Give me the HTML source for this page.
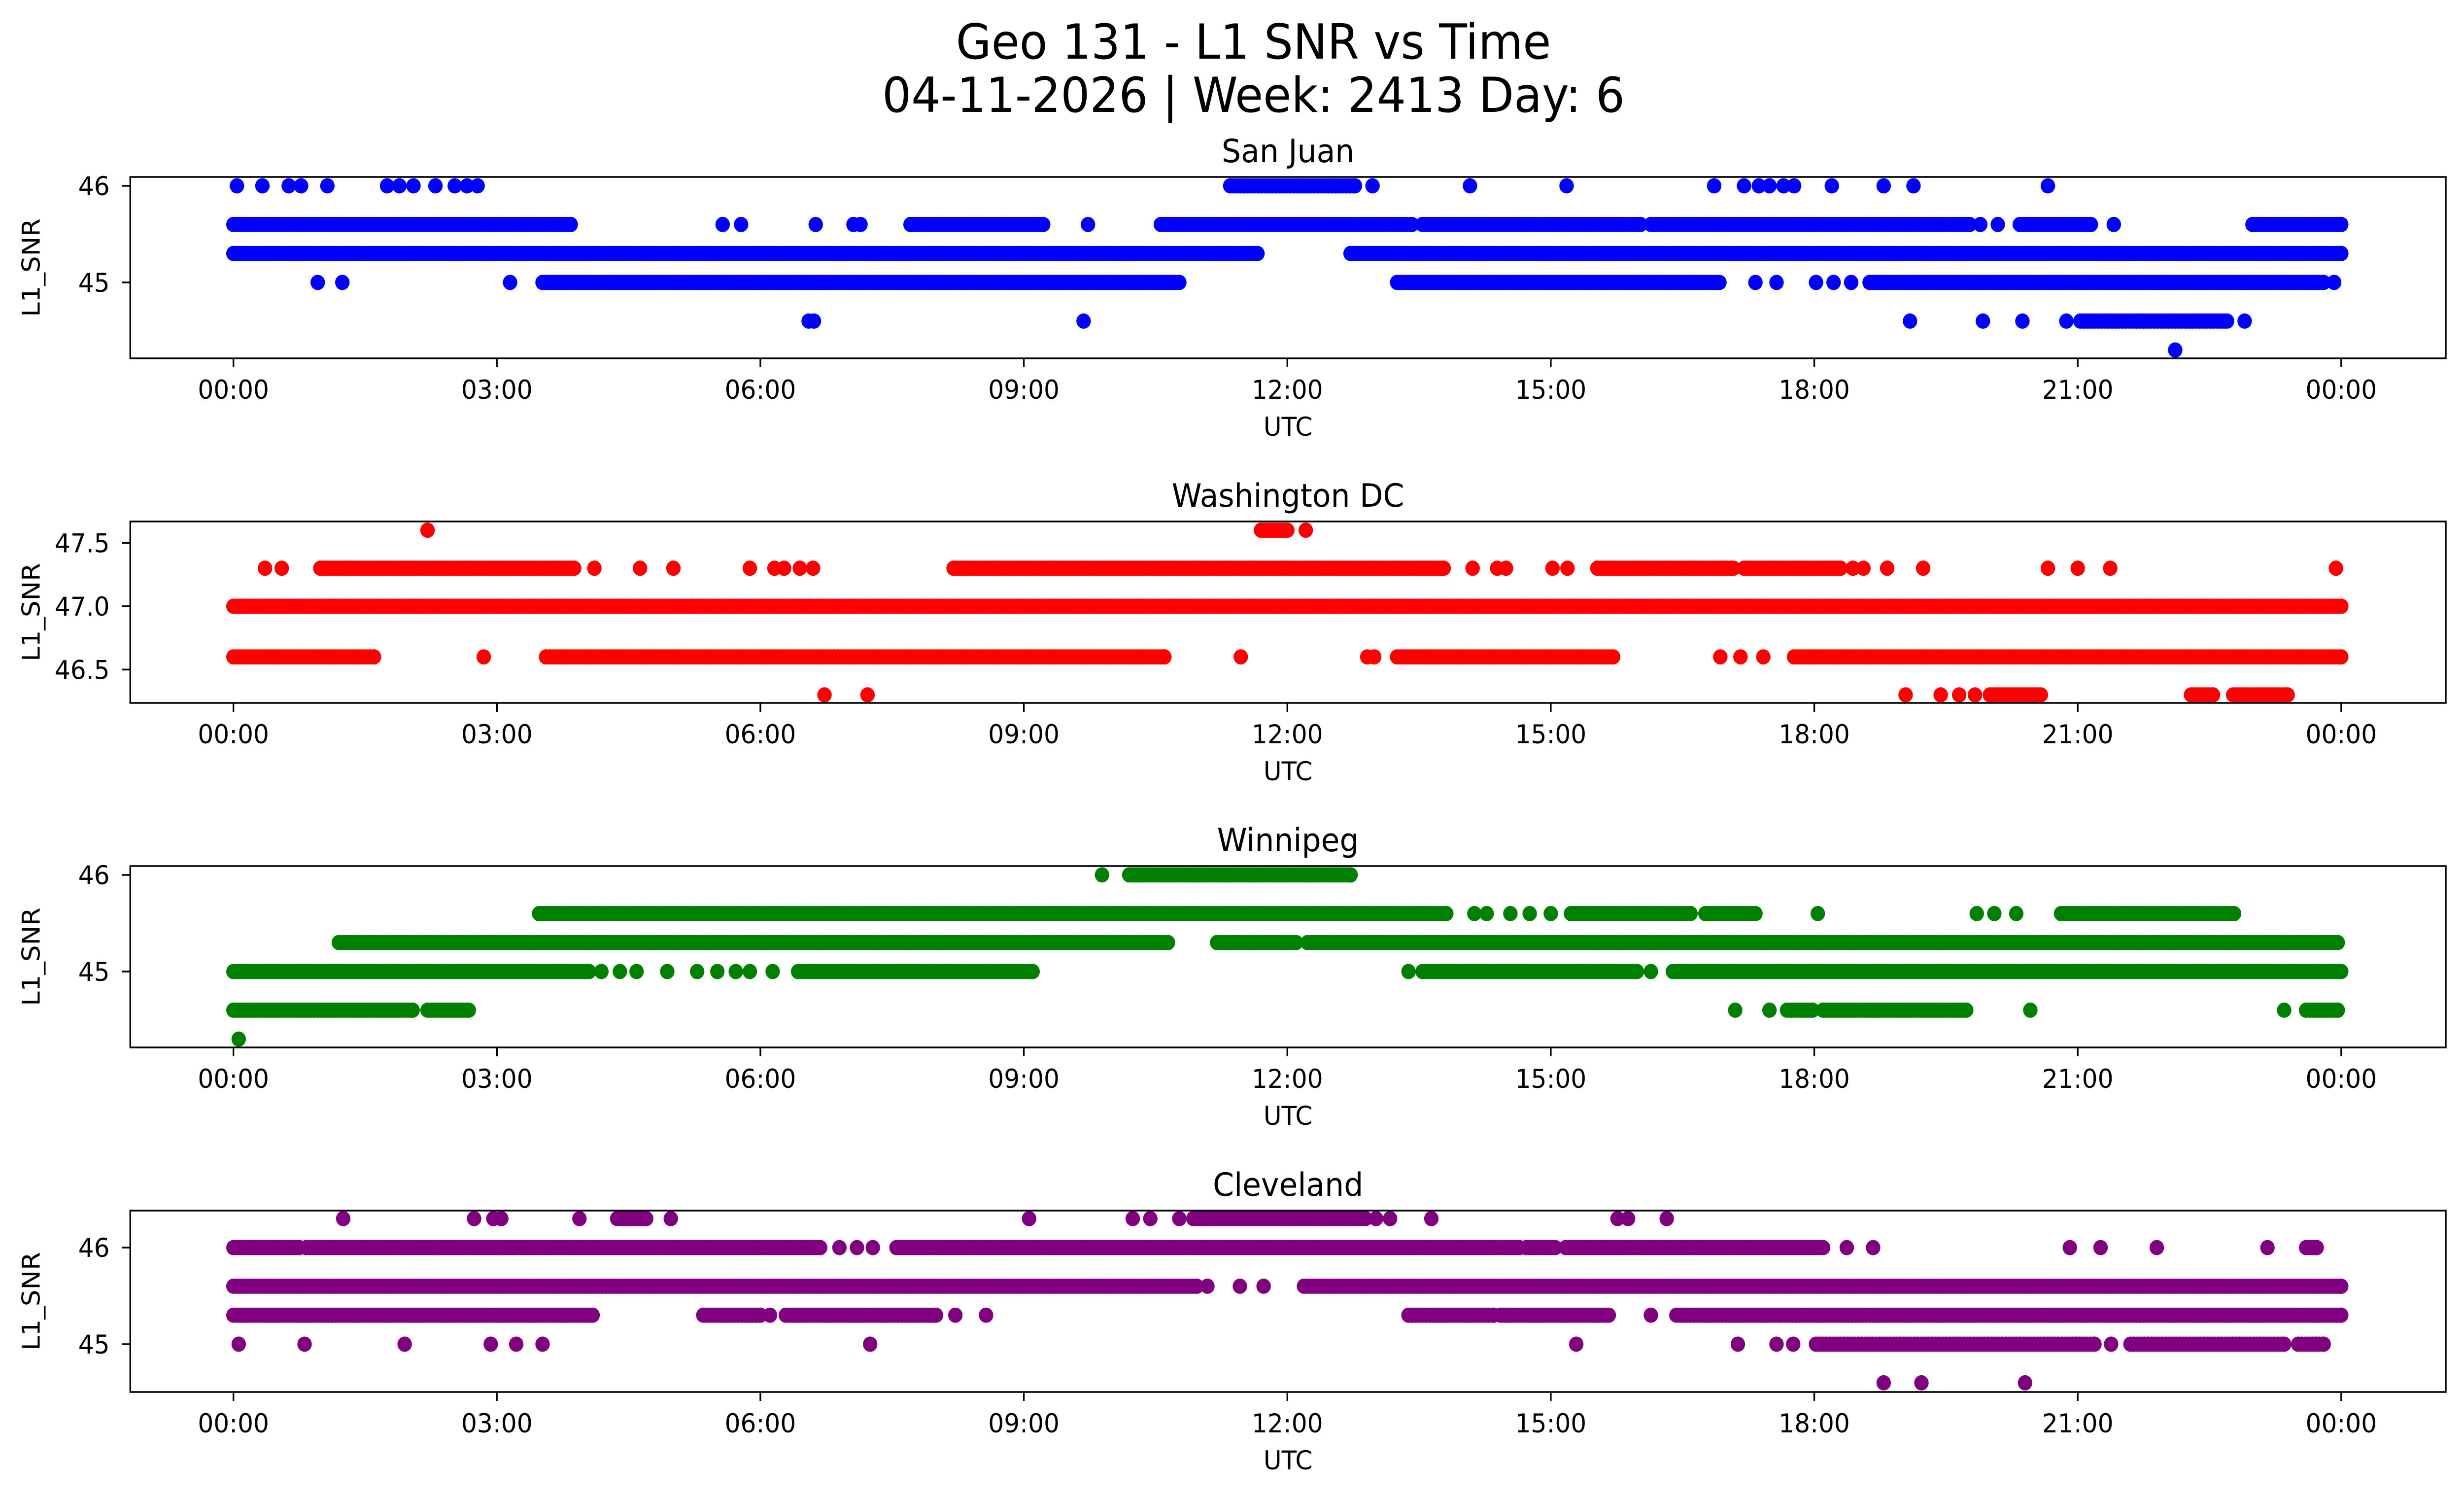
<!DOCTYPE html>
<html><head><meta charset="utf-8">
<style>
html,body{margin:0;padding:0;background:#fff;overflow:hidden;width:100vw;height:100vh;}
svg{display:block;width:100vw;height:100vh;}
text{font-family:"DejaVu Sans","Liberation Sans",sans-serif;fill:#000;}
</style></head>
<body>
<svg id="fig" viewBox="0 0 5278 3033" preserveAspectRatio="none" xmlns="http://www.w3.org/2000/svg">
<rect x="0" y="0" width="5278" height="3033" fill="#fff"/>
<text x="2685" y="119" font-size="98" text-anchor="middle">Geo 131 - L1 SNR vs Time</text>
<text x="2685" y="227" font-size="98" text-anchor="middle">04-11-2026 | Week: 2413 Day: 6</text>
</svg>
<script>
// ---- data (hours UTC, SNR) ----
const xTickHours = [0,3,6,9,12,15,18,21,24];
const xTickLabels = ["00:00","03:00","06:00","09:00","12:00","15:00","18:00","21:00","00:00"];

const stations = ["San Juan","Washington DC","Winnipeg","Cleveland"];
const seriesColors = ["#0000ff","#ff0000","#008000","#800080"];

const sanJuanTicks = [45,46];
const washingtonTicks = [46.5,47.0,47.5];
const winnipegTicks = [45,46];
const clevelandTicks = [45,46];

const sanJuanRange = [44.214,46.092];
const washingtonRange = [46.237,47.669];
const winnipegRange = [44.214,46.092];
const clevelandRange = [44.505,46.383];

// runs: [snr, startHour, endHour]
const sanJuanRuns = [
 [46,11.35,12.77],
 [45.6,0,3.84],[45.6,7.71,9.22],[45.6,10.56,13.42],[45.6,13.54,16.02],[45.6,16.14,19.77],[45.6,20.34,21.15],[45.6,22.99,24],
 [45.3,0,11.66],[45.3,12.72,24],
 [45,3.52,10.77],[45,13.25,16.92],[45,18.63,23.8],
 [44.6,21.03,22.7]
];
const sanJuanPts = [
 [46,0.04],[46,0.33],[46,0.63],[46,0.77],[46,1.07],[46,1.75],[46,1.89],[46,2.05],[46,2.3],[46,2.52],[46,2.66],[46,2.78],
 [46,12.97],[46,14.08],[46,15.18],[46,16.86],[46,17.2],[46,17.37],[46,17.49],[46,17.65],[46,17.77],[46,18.2],[46,18.79],[46,19.13],[46,20.66],
 [45.6,5.57],[45.6,5.78],[45.6,6.63],[45.6,7.06],[45.6,7.14],[45.6,9.73],[45.6,19.89],[45.6,20.09],[45.6,21.41],
 [45,0.96],[45,1.24],[45,3.15],[45,17.33],[45,17.57],[45,18.02],[45,18.22],[45,18.42],[45,23.92],
 [44.6,6.55],[44.6,6.61],[44.6,9.68],[44.6,19.09],[44.6,19.92],[44.6,20.37],[44.6,20.87],[44.6,22.9],
 [44.3,22.11]
];
const washingtonRuns = [
 [47.6,11.7,12.0],
 [47.3,0.99,3.88],[47.3,8.2,13.78],[47.3,15.53,17.08],[47.3,17.2,18.3],
 [47.0,0,24],
 [46.6,0,1.6],[46.6,3.56,10.6],[46.6,13.25,15.71],[46.6,17.77,24],
 [46.3,20.0,20.58],[46.3,22.29,22.54],[46.3,22.77,23.39]
];
const washingtonPts = [
 [47.6,2.21],[47.6,12.21],
 [47.3,0.36],[47.3,0.55],[47.3,4.11],[47.3,4.63],[47.3,5.01],[47.3,5.88],[47.3,6.16],[47.3,6.27],[47.3,6.45],[47.3,6.6],
 [47.3,14.11],[47.3,14.39],[47.3,14.49],[47.3,15.02],[47.3,15.19],[47.3,18.44],[47.3,18.56],[47.3,18.83],[47.3,19.24],[47.3,20.66],[47.3,21.0],[47.3,21.37],[47.3,23.94],
 [46.6,2.85],[46.6,11.47],[46.6,12.91],[46.6,12.99],[46.6,16.93],[46.6,17.16],[46.6,17.42],
 [46.3,6.73],[46.3,7.22],[46.3,19.04],[46.3,19.44],[46.3,19.65],[46.3,19.83]
];
const winnipegRuns = [
 [46,10.2,12.72],
 [45.6,3.48,13.81],[45.6,15.23,16.59],[45.6,16.76,17.33],[45.6,20.81,22.78],
 [45.3,1.2,10.64],[45.3,11.2,12.1],[45.3,12.23,23.96],
 [45,0,4.05],[45,6.43,9.1],[45,13.54,15.98],[45,16.39,24],
 [44.6,0,2.04],[44.6,2.21,2.68],[44.6,17.69,17.98],[44.6,18.1,19.73],[44.6,23.6,23.96]
];
const winnipegPts = [
 [46,9.89],
 [45.6,14.13],[45.6,14.27],[45.6,14.54],[45.6,14.76],[45.6,15.0],[45.6,18.04],[45.6,19.85],[45.6,20.05],[45.6,20.3],
 [45,4.19],[45,4.4],[45,4.59],[45,4.94],[45,5.28],[45,5.51],[45,5.72],[45,5.88],[45,6.14],[45,13.38],[45,16.14],
 [44.6,17.1],[44.6,17.49],[44.6,20.46],[44.6,23.35],
 [44.3,0.06]
];
const clevelandRuns = [
 [46.3,4.37,4.7],[46.3,10.93,12.89],
 [46.0,0,0.75],[46.0,0.83,3.19],[46.0,3.23,3.64],[46.0,3.68,6.68],[46.0,7.55,14.64],[46.0,14.72,15.05],[46.0,15.17,18.1],[46.0,23.6,23.72],
 [45.6,0,10.97],[45.6,12.19,24],
 [45.3,0,4.09],[45.3,5.35,6.0],[45.3,6.29,8.0],[45.3,13.38,14.35],[45.3,14.43,15.66],[45.3,16.43,24],
 [45.0,18.02,21.19],[45.0,21.6,23.35],[45.0,23.51,23.8]
];
const clevelandPts = [
 [46.3,1.25],[46.3,2.74],[46.3,2.96],[46.3,3.05],[46.3,3.94],[46.3,4.98],[46.3,9.06],[46.3,10.24],[46.3,10.44],[46.3,10.77],
 [46.3,13.01],[46.3,13.17],[46.3,13.64],[46.3,15.76],[46.3,15.88],[46.3,16.32],
 [46.0,6.9],[46.0,7.1],[46.0,7.28],[46.0,18.37],[46.0,18.67],[46.0,20.91],[46.0,21.26],[46.0,21.9],[46.0,23.16],
 [45.6,11.09],[45.6,11.46],[45.6,11.73],
 [45.3,6.11],[45.3,8.22],[45.3,8.57],[45.3,16.14],
 [45.0,0.06],[45.0,0.81],[45.0,1.95],[45.0,2.93],[45.0,3.22],[45.0,3.52],[45.0,7.25],[45.0,15.29],[45.0,17.13],[45.0,17.57],[45.0,17.76],[45.0,21.38],
 [44.6,18.79],[44.6,19.22],[44.6,20.4]
];

// ---- layout ----
const NS = "http://www.w3.org/2000/svg";
const svg = document.getElementById("fig");
const AX_L = 279, AX_R = 5239, AX_H = 368;
const panelTops = [359,1058,1757,2456];
const X0 = 500, X24 = 5015;
const panels = [
 {runs:sanJuanRuns, pts:sanJuanPts, ticks:sanJuanTicks, range:sanJuanRange, fmt:v=>v.toFixed(0)},
 {runs:washingtonRuns, pts:washingtonPts, ticks:washingtonTicks, range:washingtonRange, fmt:v=>v.toFixed(1)},
 {runs:winnipegRuns, pts:winnipegPts, ticks:winnipegTicks, range:winnipegRange, fmt:v=>v.toFixed(0)},
 {runs:clevelandRuns, pts:clevelandPts, ticks:clevelandTicks, range:clevelandRange, fmt:v=>v.toFixed(0)}
];
function xScale(h){ return X0 + (X24 - X0) * h / 24; }
function mk(tag, attrs, parent){
  const e = document.createElementNS(NS, tag);
  for (const k in attrs) e.setAttribute(k, attrs[k]);
  (parent || svg).appendChild(e);
  return e;
}
const slug = s => s.toLowerCase().replace(/\s+/g,'-');

panels.forEach((p, i) => {
  const top = panelTops[i], bot = top + AX_H;
  const [ymin, ymax] = p.range;
  const yScale = v => bot - (v - ymin) / (ymax - ymin) * AX_H;
  const g = mk("g", {});
  
  

  const t = mk("text", {x:(AX_L+AX_R)/2, y:top-30, "font-size":65, "text-anchor":"middle"}, g);
  t.textContent = stations[i];
  
  

  const pg = mk("g", {fill: seriesColors[i]}, g);
  
  
  const step = 0.04;
  p.runs.forEach(r => {
    const [v, s, e] = r;
    const cy = yScale(v);
    for (let h = s; h <= e + 1e-9; h += step) {
      const c = mk("circle", {cx:xScale(h).toFixed(1), cy:cy.toFixed(1), r:15.5}, pg);
      
      
    }
    const c2 = mk("circle", {cx:xScale(e).toFixed(1), cy:cy.toFixed(1), r:15.5}, pg);
    
    
  });
  p.pts.forEach(pt => {
    const c = mk("circle", {cx:xScale(pt[1]).toFixed(1), cy:yScale(pt[0]).toFixed(1), r:15.5}, pg);
    
    
  });

  const fr = mk("rect", {x:AX_L, y:top, width:AX_R-AX_L, height:AX_H, fill:"none", stroke:"#000", "stroke-width":3.5}, g);
  
  

  xTickHours.forEach((h, k) => {
    const x = xScale(h);
    const tl = mk("line", {x1:x, y1:bot, x2:x, y2:bot+18, stroke:"#000", "stroke-width":3.5}, g);
    
    
    const tx = mk("text", {x:x, y:bot+82, "font-size":53, "text-anchor":"middle"}, g);
    tx.textContent = xTickLabels[k];
    
    
  });
  const xl = mk("text", {x:(AX_L+AX_R)/2, y:bot+157, "font-size":53, "text-anchor":"middle"}, g);
  xl.textContent = "UTC";
  
  

  p.ticks.forEach(v => {
    const y = yScale(v);
    const tl = mk("line", {x1:AX_L-18, y1:y, x2:AX_L, y2:y, stroke:"#000", "stroke-width":3.5}, g);
    
    
    const tx = mk("text", {x:235, y:y+19, "font-size":53, "text-anchor":"end"}, g);
    tx.textContent = p.fmt(v);
    
    
  });
  const cy = top + AX_H/2;
  const yl = mk("text", {x:85, y:cy, "font-size":53, "text-anchor":"middle", transform:`rotate(-90 85 ${cy})`}, g);
  yl.textContent = "L1_SNR";
  
  
});
</script>
</body></html>
